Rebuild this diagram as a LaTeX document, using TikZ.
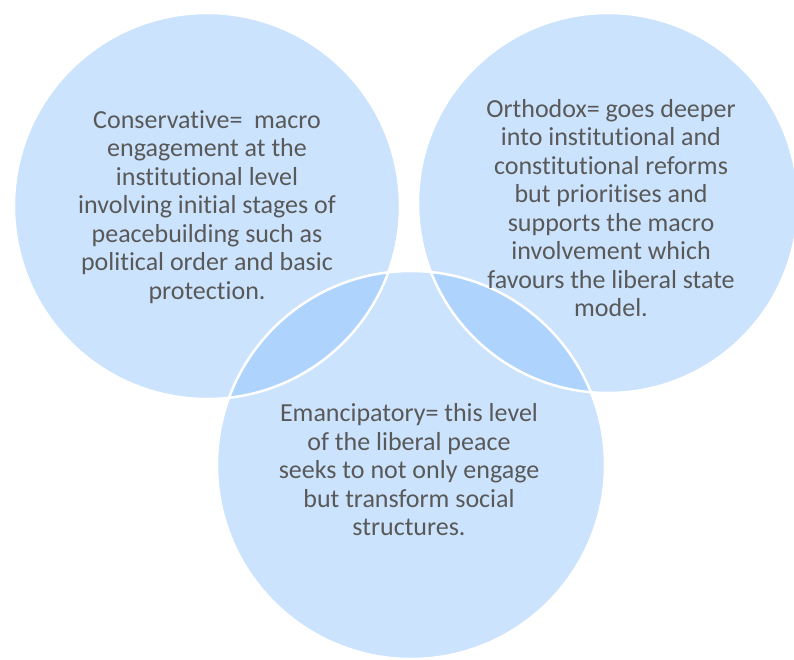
\documentclass[tikz,border=0pt]{standalone}
\usepackage{fontspec}
\setmainfont[Ligatures=NoCommon]{Carlito}
\definecolor{circfill}{HTML}{CBE3FC}
\definecolor{lensfill}{HTML}{AED3FD}
\definecolor{txtgray}{HTML}{595959}
\tikzset{every node/.style={align=center, text=txtgray, inner sep=0pt, font=\fontsize{26}{28.5}\selectfont},
  ring/.style={draw=white, line width=2.5pt}}

\begin{document}
\begin{tikzpicture}[x=1pt,y=-1pt]
  \useasboundingbox (0,0) rectangle (794,659);
  \coordinate (cons) at (207,206);
  \coordinate (orth) at (608,203);
  \coordinate (eman) at (411,465);
  % circles
  \fill[circfill] (cons) circle[radius=193pt] (orth) circle[radius=190pt] (eman) circle[radius=194pt];
  \begin{scope}
    \clip (eman) circle[radius=194pt];
    \fill[lensfill] (cons) circle[radius=193pt];
    \fill[lensfill] (orth) circle[radius=190pt];
  \end{scope}
  \draw[ring] (cons) circle[radius=193pt];
  \draw[ring] (orth) circle[radius=190pt];
  \draw[ring] (eman) circle[radius=194pt];
  % texts
  \node (conservative) at (207,207) {Conservative=\ \ macro\\engagement at the\\institutional level\\involving initial stages of\\peacebuilding such as\\political order and basic\\protection.};
  \node (orthodox) at (611,208) {Orthodox= goes deeper\\into institutional and\\constitutional reforms\\but prioritises and\\supports the macro\\involvement which\\favours the liberal state\\model.};
  \node (emancipatory) at (409,470) {Emancipatory= this level\\of the liberal peace\\seeks to not only engage\\but transform social\\structures.};
\end{tikzpicture}
\end{document}
